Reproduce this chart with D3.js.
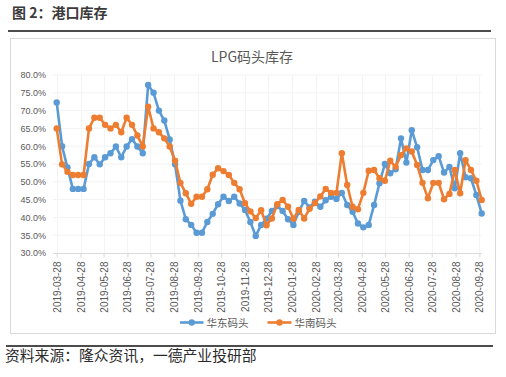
<!DOCTYPE html>
<html>
<head>
<meta charset="utf-8">
<script src="https://cdn.jsdelivr.net/npm/d3@7"></script>
<style>
  html, body { margin: 0; padding: 0; background: #ffffff; }
  svg { display: block; }
</style>
</head>
<body>
<svg id="chart" width="506" height="377"></svg>
<script>
// ---------------- data ----------------
const dates = [
  "2019-03-28","2019-04-04","2019-04-11","2019-04-18","2019-04-25","2019-05-02","2019-05-09","2019-05-16",
  "2019-05-23","2019-05-30","2019-06-06","2019-06-13","2019-06-20","2019-06-27","2019-07-04","2019-07-11",
  "2019-07-18","2019-07-25","2019-08-01","2019-08-08","2019-08-15","2019-08-22","2019-08-29","2019-09-05",
  "2019-09-12","2019-09-19","2019-09-26","2019-10-03","2019-10-10","2019-10-17","2019-10-24","2019-10-31",
  "2019-11-07","2019-11-14","2019-11-21","2019-11-28","2019-12-05","2019-12-12","2019-12-19","2019-12-26",
  "2020-01-02","2020-01-09","2020-01-16","2020-01-23","2020-01-30","2020-02-06","2020-02-13","2020-02-20",
  "2020-02-27","2020-03-05","2020-03-12","2020-03-19","2020-03-26","2020-04-02","2020-04-09","2020-04-16",
  "2020-04-23","2020-04-30","2020-05-07","2020-05-14","2020-05-21","2020-05-28","2020-06-04","2020-06-11",
  "2020-06-18","2020-06-25","2020-07-02","2020-07-09","2020-07-16","2020-07-23","2020-07-30","2020-08-06",
  "2020-08-13","2020-08-20","2020-08-27","2020-09-03","2020-09-10","2020-09-17","2020-09-24","2020-10-01"
];

const eastChina = [ // 华东码头 (%)
  72.3, 60.0, 54.0, 48.0, 48.0, 48.0, 55.0, 56.9, 54.9, 56.9, 58.0, 59.9, 56.9, 59.9, 62.0, 59.9,
  58.0, 77.2, 75.0, 70.0, 67.2, 61.9, 54.9, 44.7, 39.5, 37.9, 35.7, 35.7, 38.7, 41.0, 43.7, 45.8,
  44.6, 45.8, 43.9, 42.1, 38.7, 34.8, 37.9, 39.6, 41.8, 43.2, 41.8, 39.5, 37.9, 41.6, 44.6, 42.8,
  44.4, 43.0, 44.8, 45.8, 45.2, 46.9, 43.5, 41.6, 38.3, 37.2, 37.9, 43.5, 49.6, 55.0, 52.4, 53.5,
  62.2, 55.4, 64.5, 59.7, 53.3, 53.3, 56.1, 57.2, 52.6, 54.2, 48.2, 58.0, 51.3, 51.0, 46.3, 41.1
];

const southChina = [ // 华南码头 (%)
  65.0, 54.9, 52.8, 51.9, 51.9, 51.9, 65.0, 68.0, 68.0, 66.0, 65.0, 66.0, 63.9, 68.0, 66.0, 63.0,
  59.9, 71.1, 65.0, 63.9, 62.2, 59.9, 55.9, 49.7, 46.8, 43.8, 45.8, 45.8, 47.9, 52.0, 53.8, 53.0,
  51.9, 49.7, 47.9, 44.0, 41.7, 39.8, 42.0, 37.8, 39.7, 43.7, 44.9, 43.0, 39.6, 42.1, 39.7, 42.4,
  44.0, 45.9, 48.0, 46.9, 46.9, 58.0, 49.1, 43.0, 42.3, 46.9, 53.1, 53.3, 51.0, 50.3, 55.9, 54.2,
  57.5, 59.4, 58.5, 54.7, 49.7, 45.4, 49.7, 49.7, 45.1, 46.6, 53.3, 46.8, 56.1, 53.3, 50.3, 44.9
];

const xTickLabels = [
  "2019-03-28","2019-04-28","2019-05-28","2019-06-28","2019-07-28","2019-08-28","2019-09-28",
  "2019-10-28","2019-11-28","2019-12-28","2020-01-28","2020-02-28","2020-03-28","2020-04-28",
  "2020-05-28","2020-06-28","2020-07-28","2020-08-28","2020-09-28"
];
const yTicks = [30, 35, 40, 45, 50, 55, 60, 65, 70, 75, 80];

const seriesNames = ["华东码头", "华南码头"];
const seriesColors = ["#5B9BD5", "#ED7D31"];
const chartTitle = "LPG码头库存";
const figureTitle = "图 2：港口库存";
const sourceText = "资料来源：隆众资讯，一德产业投研部";

// ---------------- drawing ----------------
const parse = d3.timeParse("%Y-%m-%d");
const svg = d3.select("#chart");
const cjk = "'Noto Sans CJK SC', 'Noto Sans', sans-serif";
const latin = "'Liberation Sans', Arial, sans-serif";

svg.append("rect").attr("width", 506).attr("height", 377).attr("fill", "#ffffff");

// figure header
svg.append("text").attr("x", 12).attr("y", 18)
  .attr("font-family", cjk).attr("font-size", 14).attr("font-weight", "bold")
  .attr("fill", "#3a3a3a").text(figureTitle);
svg.append("line").attr("x1", 8).attr("x2", 491).attr("y1", 31).attr("y2", 31)
  .attr("stroke", "#111").attr("stroke-width", 1.6);

// chart frame
svg.append("rect").attr("x", 10.5).attr("y", 38.5).attr("width", 485).attr("height", 295)
  .attr("fill", "#fff").attr("stroke", "#d9d9d9").attr("stroke-width", 1);

// footer
svg.append("line").attr("x1", 6).attr("x2", 493).attr("y1", 346).attr("y2", 346)
  .attr("stroke", "#111").attr("stroke-width", 1.6);
svg.append("text").attr("x", 5).attr("y", 361)
  .attr("font-family", cjk).attr("font-size", 14.8)
  .attr("fill", "#2a2a2a").text(sourceText);

// chart title
svg.append("text").attr("x", 252).attr("y", 62).attr("text-anchor", "middle")
  .attr("font-family", cjk).attr("font-size", 14).attr("fill", "#595959").text(chartTitle);

// scales
const x = d3.scaleTime()
  .domain([parse(dates[0]), parse(dates[dates.length - 1])])
  .range([56.7, 481.7]);
const y = d3.scaleLinear().domain([30, 80]).range([253, 75]);

// grid
const grid = svg.append("g");
grid.selectAll("line.h").data(yTicks.filter(v => v > 30)).enter().append("line")
  .attr("x1", 53).attr("x2", 482).attr("y1", d => y(d)).attr("y2", d => y(d))
  .attr("stroke", "#f2f2f2").attr("stroke-width", 1);
grid.selectAll("line.v").data(xTickLabels).enter().append("line")
  .attr("x1", d => Math.round(x(parse(d))) + 0.5).attr("x2", d => Math.round(x(parse(d))) + 0.5)
  .attr("y1", 75).attr("y2", 253)
  .attr("stroke", "#f4f4f4").attr("stroke-width", 1);

// y axis labels
const yAxis = d3.axisLeft(y).tickValues(yTicks).tickSize(0).tickPadding(0)
  .tickFormat(d => d3.format(".1f")(d) + "%");
const gy = svg.append("g").attr("transform", "translate(46,0)").call(yAxis);
gy.select(".domain").remove();
gy.selectAll("text").attr("font-family", latin).attr("font-size", 9).attr("fill", "#595959");

// x axis
const xAxis = d3.axisBottom(x).tickValues(xTickLabels.map(parse)).tickSize(4)
  .tickFormat(d3.timeFormat("%Y-%m-%d"));
const gx = svg.append("g").attr("transform", "translate(0,253.5)").call(xAxis);
gx.select(".domain").attr("stroke", "#d9d9d9").attr("d", "M53,0H482");
gx.selectAll(".tick line").attr("stroke", "#d9d9d9");
gx.selectAll(".tick text")
  .attr("font-family", latin).attr("font-size", 10).attr("fill", "#595959")
  .attr("transform", "rotate(-90)")
  .attr("text-anchor", "end")
  .attr("x", -8).attr("y", 0).attr("dy", "0.35em");

// series
const series = [eastChina, southChina];
const line = d3.line().x((d, i) => x(parse(dates[i]))).y(d => y(d));
series.forEach((vals, s) => {
  const g = svg.append("g");
  g.append("path").datum(vals).attr("d", line)
    .attr("fill", "none").attr("stroke", seriesColors[s]).attr("stroke-width", 2.6)
    .attr("stroke-linejoin", "round");
  g.selectAll("circle").data(vals).enter().append("circle")
    .attr("cx", (d, i) => x(parse(dates[i]))).attr("cy", d => y(d)).attr("r", 3.2)
    .attr("fill", seriesColors[s]);
});

// legend
const legendItems = [{x0: 180, x1: 203.5, tx: 206.5}, {x0: 267.5, x1: 291.5, tx: 294.5}];
legendItems.forEach((L, s) => {
  const g = svg.append("g");
  g.append("line").attr("x1", L.x0).attr("x2", L.x1).attr("y1", 322.5).attr("y2", 322.5)
    .attr("stroke", seriesColors[s]).attr("stroke-width", 2.6);
  g.append("circle").attr("cx", (L.x0 + L.x1) / 2).attr("cy", 322.5).attr("r", 3.2)
    .attr("fill", seriesColors[s]);
  g.append("text").attr("x", L.tx).attr("y", 326.5)
    .attr("font-family", cjk).attr("font-size", 10.5).attr("fill", "#595959")
    .text(seriesNames[s]);
});
</script>
</body>
</html>
